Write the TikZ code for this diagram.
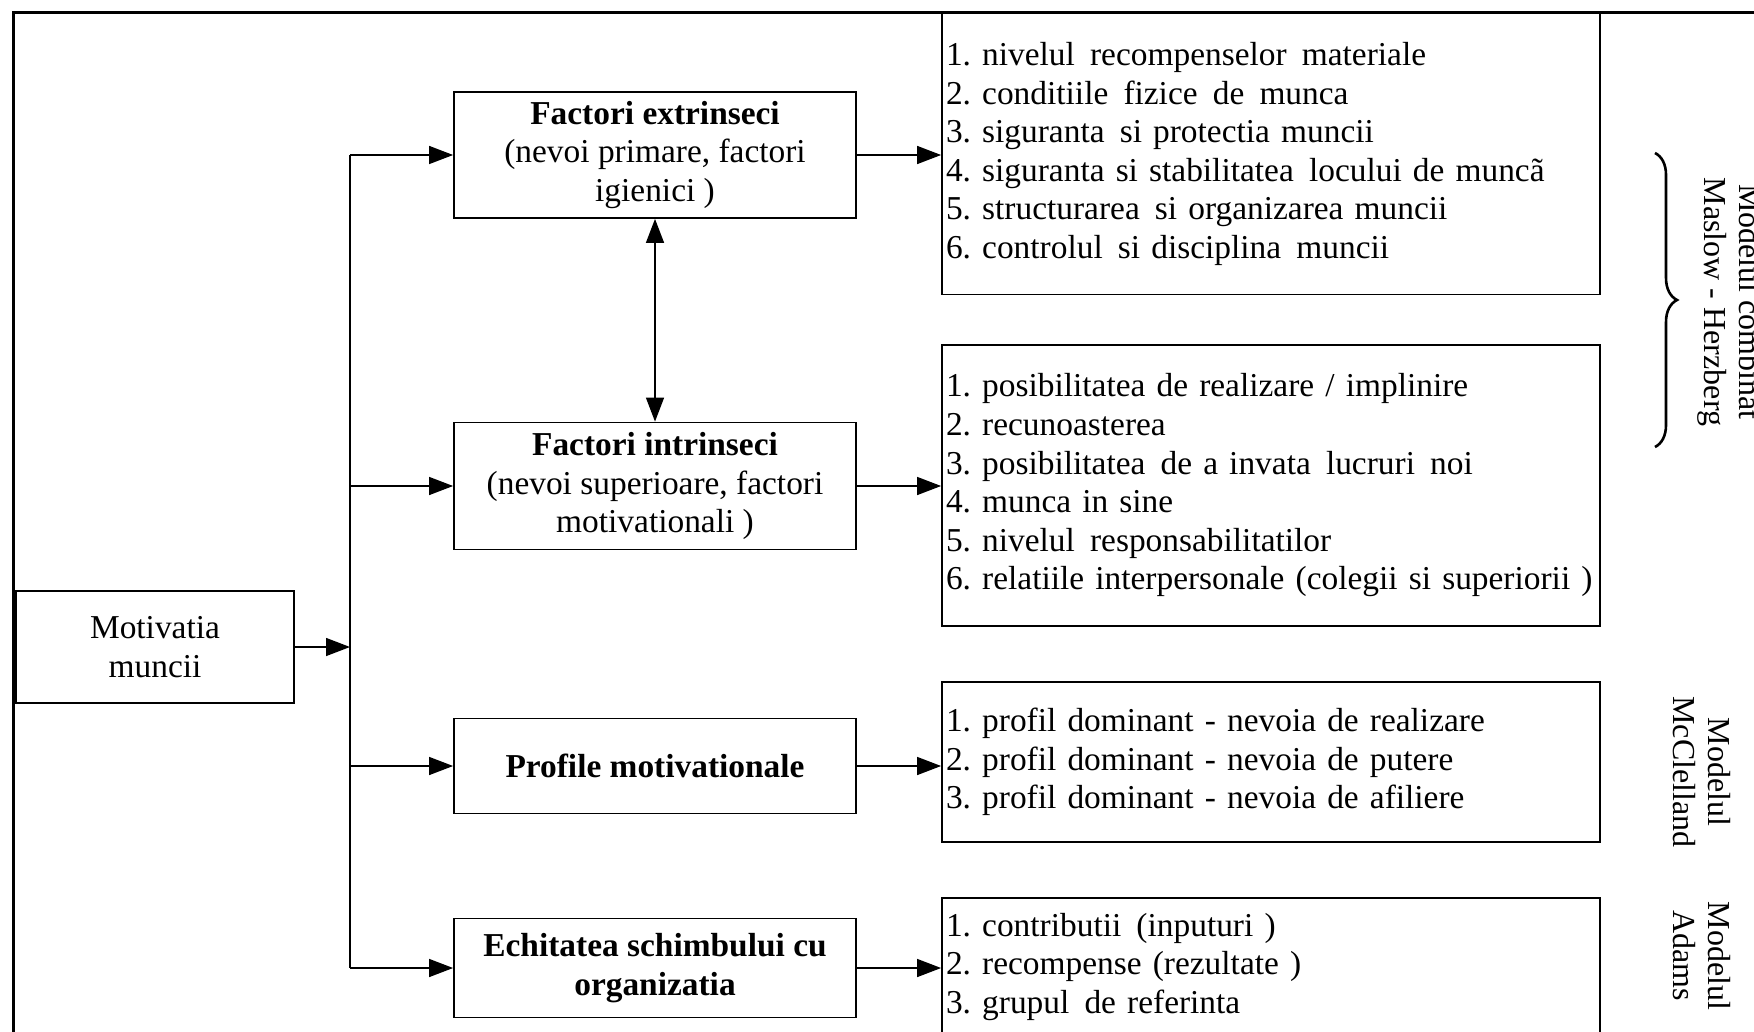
\documentclass[tikz,border=0pt]{standalone}
\usepackage{fontspec}
\setmainfont{Liberation Serif}
\usetikzlibrary{arrows.meta,decorations.pathreplacing}
\newcommand\xs{\hspace{0.12em}}
\begin{document}
\frenchspacing
\begin{tikzpicture}[x=0.5pt,y=-0.5pt,
  txt/.style={font=\fontsize{16.7}{19.3}\selectfont},
  cbox/.style={txt,draw,line width=0.9pt,align=center,inner sep=0pt},
  lbox/.style={txt,draw,line width=0.9pt,align=left,inner xsep=2pt,inner ysep=0pt,
     minimum width=329pt,text width=325pt},
  arr/.style={line width=0.7pt,-{Triangle[length=12pt,width=9pt]}},
  arrb/.style={line width=0.7pt,{Triangle[length=12pt,width=9pt]}-{Triangle[length=12pt,width=9pt]}},
  rot/.style={font=\fontsize{16}{17.5}\selectfont,rotate=-90,align=center,inner sep=0pt}]
\clip (0,0) rectangle (1754,1032);
\fill[white] (0,0) rectangle (1754,1032);
\draw[line width=1.5pt] (13,1040) -- (13,13) -- (1760,13);
% left box
\node[cbox,minimum width=139pt,minimum height=56pt] (mot) at (155,647) {Motivatia\\muncii};
\coordinate (tr) at (350,647);
% middle boxes
\node[cbox,minimum width=201pt,minimum height=63pt] (fe) at (655,155)
  {\textbf{Factori extrinseci}\\(nevoi primare, factori\\igienici )};
\node[cbox,minimum width=201pt,minimum height=63.5pt] (fi) at (655,486)
  {\textbf{Factori intrinseci}\\(nevoi superioare, factori\\motivationali )};
\node[cbox,minimum width=201pt,minimum height=47.5pt] (pm) at (655,766)
  {\textbf{Profile motivationale}};
\node[cbox,minimum width=201pt,minimum height=49.5pt] (ech) at (655,968)
  {\textbf{Echitatea schimbului cu}\\\textbf{organizatia}};
% list boxes
\node[lbox,minimum height=140.5pt] (l1) at (1271,154)
  {1. nivelul \xs recompenselor \xs materiale\\
   2. conditiile \xs fizice \xs de \xs munca\\
   3. siguranta \xs si protectia muncii\\
   4. siguranta si stabilitatea \xs locului de muncã\\
   5. structurarea \xs si organizarea muncii\\
   6. controlul \xs si disciplina \xs muncii};
\node[lbox,minimum height=140.5pt] (l2) at (1271,485.5)
  {1. posibilitatea de realizare / implinire\\
   2. recunoasterea\\
   3. posibilitatea \xs de a invata \xs lucruri \xs noi\\
   4. munca in sine\\
   5. nivelul \xs responsabilitatilor\\
   \mbox{6. relatiile interpersonale (colegii si superiorii )}};
\node[lbox,minimum height=80pt] (l3) at (1271,762)
  {1. profil dominant - nevoia de realizare\\
   2. profil dominant - nevoia de putere\\
   3. profil dominant - nevoia de afiliere};
\node[lbox,minimum height=69pt] (l4) at (1271,967)
  {1. contributii \xs (inputuri )\\
   2. recompense (rezultate )\\
   3. grupul \xs de referinta};
% connectors
\draw[arr] (mot.east) -- (tr);
\draw[line width=0.7pt] (fe.west -| tr) -- (ech.west -| tr);
\draw[arr] (fe.west -| tr) -- (fe.west);
\draw[arr] (fi.west -| tr) -- (fi.west);
\draw[arr] (pm.west -| tr) -- (pm.west);
\draw[arr] (ech.west -| tr) -- (ech.west);
\draw[arrb] (fe.south) -- (fi.north);
\draw[arr] (fe.east) -- (fe.east -| l1.west);
\draw[arr] (fi.east) -- (fi.east -| l2.west);
\draw[arr] (pm.east) -- (pm.east -| l3.west);
\draw[arr] (ech.east) -- (ech.east -| l4.west);
% brace and model labels
\coordinate (bt) at (1655,153);
\coordinate (bb) at (1655,447);
\draw[line width=1.3pt,decorate,decoration={brace,amplitude=11pt}] (bt) -- (bb);
\node[rot] (mh) at (1730,302) {Modelul combinat\\Maslow - Herzberg};
\node[rot] (mc) at (1702,772) {Modelul\\McClelland};
\node[rot] (ad) at (1702,956) {Modelul\\Adams};
\end{tikzpicture}
\end{document}
